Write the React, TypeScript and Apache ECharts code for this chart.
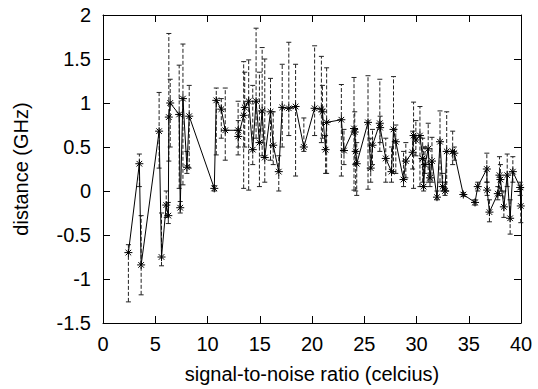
import React, { useEffect, useRef } from "react";
import * as echarts from "echarts";

const xTicks = [0, 5, 10, 15, 20, 25, 30, 35, 40];
const yTicks = [-1.5, -1, -0.5, 0, 0.5, 1, 1.5, 2];

const xs = [
  2.43, 3.48, 3.65, 5.37, 5.6, 6.05, 6.25, 6.3, 6.43, 7.29, 7.39, 7.65, 8.03, 8.25,
  10.65, 10.84, 11.32, 11.7, 12.93, 12.95, 13.46, 13.56, 13.94, 14.33, 14.65, 14.97, 15.23, 15.48,
  16.03, 16.29, 16.82, 17.15, 17.78, 18.43, 19.22,
  20.25, 20.9, 21.0, 21.3, 21.4, 22.81, 23.06, 24.02, 24.09, 24.18, 24.28, 25.36, 25.62, 25.79,
  26.49, 26.52, 27.06, 27.61, 27.8, 28.02, 28.76, 28.98,
  29.63, 29.72, 29.94, 30.33, 30.59, 30.68, 30.81, 31.12, 31.29, 31.48, 31.96, 32.25, 32.5, 32.73,
  32.89, 33.46, 33.62, 34.48, 35.6, 35.86, 36.73, 36.76, 36.98, 37.78, 37.94, 38.03, 38.36, 38.68,
  38.96, 39.22, 39.92, 39.98,
];
const ys = [
  -0.7, 0.31, -0.84, 0.68, -0.75, -0.16, -0.28, 0.84, 1.0, 0.87, -0.19, 1.05, 0.27, 0.85,
  0.03, 1.03, 0.93, 0.69, 0.69, 0.62, 0.86, 0.95, 1.02, 0.47, 1.02, 0.55, 0.91, 0.38,
  0.9, 0.52, 0.22, 0.95, 0.94, 0.96, 0.5,
  0.94, 0.93, 0.9, 0.47, 0.78, 0.81, 0.46, 0.71, 0.67, 0.45, 0.31, 0.78, 0.26, 0.52,
  0.77, 0.72, 0.37, 0.22, 0.7, 0.56, 0.13, 0.34,
  0.44, 0.63, 0.58, 0.63, 0.37, 0.05, 0.3, 0.48, 0.15, 0.34, -0.07, 0.56, 0.05, 0.0,
  0.45, 0.45, 0.43, -0.04, -0.13, 0.05, 0.25, 0.01, -0.24, -0.03, 0.18, 0.13, -0.18, 0.18,
  -0.31, 0.22, 0.04, -0.17,
];
const lows = [
  -1.26, 0.05, -1.18, 0.26, -0.85, -0.3, -0.37, 0.34, 0.5, 0.03, -0.25, 0.07, 0.2, 0.26,
  0.0, 0.41, 0.6, 0.35, 0.41, 0.5, 0.03, 0.5, 0.01, 0.3, 0.6, 0.05, 0.4, 0.1,
  0.35, 0.3, 0.0, 0.5, 0.63, 0.17, 0.45,
  0.63, 0.55, 0.6, 0.2, 0.2, 0.17, 0.3, 0.01, 0.3, 0.0, -0.05, 0.02, 0.1, 0.3,
  0.45, 0.55, 0.1, 0.1, 0.2, 0.2, 0.05, 0.15,
  0.25, 0.03, 0.4, 0.05, 0.1, 0.0, 0.2, 0.1, 0.05, 0.1, -0.1, 0.1, 0.0, -0.05,
  0.0, 0.3, 0.35, -0.06, -0.16, 0.0, 0.1, -0.05, -0.35, -0.1, -0.05, 0.0, -0.3, 0.05,
  -0.49, 0.1, -0.05, -0.36,
];
const highs = [
  -0.61, 0.42, -0.28, 1.12, -0.25, 0.0, -0.13, 1.79, 1.27, 1.43, -0.12, 1.67, 0.45, 1.2,
  0.06, 1.17, 1.05, 1.17, 1.02, 0.8, 1.47, 1.35, 1.49, 1.2, 1.85, 1.35, 1.63, 1.5,
  1.28, 0.9, 0.4, 1.44, 1.69, 1.44, 0.83,
  1.65, 1.53, 1.2, 0.63, 1.4, 1.21, 0.7, 1.29, 0.9, 0.7, 0.55, 1.31, 0.6, 0.7,
  1.27, 0.85, 0.6, 0.5, 1.3, 0.75, 0.45, 0.55,
  0.68, 1.01, 0.8, 0.96, 0.6, 0.5, 0.5, 0.77, 0.3, 0.61, 0.0, 0.91, 0.2, 0.1,
  0.9, 0.68, 0.5, -0.02, -0.1, 0.1, 0.43, 0.1, -0.1, 0.05, 0.39, 0.3, 0.0, 0.42,
  -0.1, 0.39, 0.1, 0.02,
];

const FONT = "'Liberation Sans', Arial, Helvetica, sans-serif";
const STAR = "path://M5,0L5,10M0,5L10,5M1.5,1.5L8.5,8.5M1.5,8.5L8.5,1.5";

export default function App() {
  const ref = useRef<HTMLDivElement>(null);
  useEffect(() => {
    if (!ref.current) return;
    const chart = echarts.init(ref.current, undefined, { renderer: "svg" });
    const lineData = xs.map((x, i) => [x, ys[i]]);
    const errData = xs.map((x, i) => [x, lows[i], highs[i]]);
    const axisLine = { show: true, onZero: false, lineStyle: { color: "#000", width: 1 } };
    const tick = { show: true, inside: true, length: 7, lineStyle: { color: "#000" } };
    const label = { color: "#000", fontFamily: FONT, fontSize: 20 };
    chart.setOption({
      animation: false,
      backgroundColor: "#fff",
      grid: { left: 103, right: 17, top: 15, bottom: 61, containLabel: false },
      xAxis: [
        {
          type: "value", min: xTicks[0], max: xTicks[xTicks.length - 1], interval: 5,
          position: "bottom", axisLine, axisTick: tick, splitLine: { show: false },
          axisLabel: { ...label, margin: 11 },
          name: "signal-to-noise ratio (celcius)", nameLocation: "middle", nameGap: 41,
          nameTextStyle: { ...label },
        },
        {
          type: "value", min: xTicks[0], max: xTicks[xTicks.length - 1], interval: 5,
          position: "top", axisLine, axisTick: tick, splitLine: { show: false },
          axisLabel: { show: false },
        },
      ],
      yAxis: [
        {
          type: "value", min: yTicks[0], max: yTicks[yTicks.length - 1], interval: 0.5,
          position: "left", axisLine, axisTick: tick, splitLine: { show: false },
          axisLabel: { ...label, margin: 12 },
          name: "distance (GHz)", nameLocation: "middle", nameGap: 72,
          nameTextStyle: { ...label },
        },
        {
          type: "value", min: yTicks[0], max: yTicks[yTicks.length - 1], interval: 0.5,
          position: "right", axisLine, axisTick: tick, splitLine: { show: false },
          axisLabel: { show: false },
        },
      ],
      series: [
        {
          type: "custom",
          xAxisIndex: 0, yAxisIndex: 0,
          encode: { x: 0, y: [1, 2] },
          data: errData,
          z: 1,
          renderItem: (params: any, api: any) => {
            const x = api.value(0);
            const p1 = api.coord([x, api.value(1)]);
            const p2 = api.coord([x, api.value(2)]);
            const cap = 2.5;
            const dashed = { stroke: "#222", lineWidth: 1, lineDash: [4, 2], fill: null };
            const solid = { stroke: "#222", lineWidth: 1, fill: null };
            return {
              type: "group",
              children: [
                { type: "line", shape: { x1: p1[0], y1: p1[1], x2: p2[0], y2: p2[1] }, style: dashed },
                { type: "line", shape: { x1: p1[0] - cap, y1: p1[1], x2: p1[0] + cap, y2: p1[1] }, style: solid },
                { type: "line", shape: { x1: p2[0] - cap, y1: p2[1], x2: p2[0] + cap, y2: p2[1] }, style: solid },
              ],
            };
          },
        },
        {
          type: "line",
          xAxisIndex: 0, yAxisIndex: 0,
          data: lineData,
          z: 2,
          symbol: STAR,
          symbolSize: 8,
          showAllSymbol: true,
          lineStyle: { color: "#000", width: 1 },
          itemStyle: { color: "#000", borderColor: "#000", borderWidth: 1 },
        },
      ],
    });
    return () => chart.dispose();
  }, []);
  return (
    <div
      ref={ref}
      style={{ position: "absolute", left: 0, top: 0, width: 538, height: 389, background: "#fff" }}
    />
  );
}
